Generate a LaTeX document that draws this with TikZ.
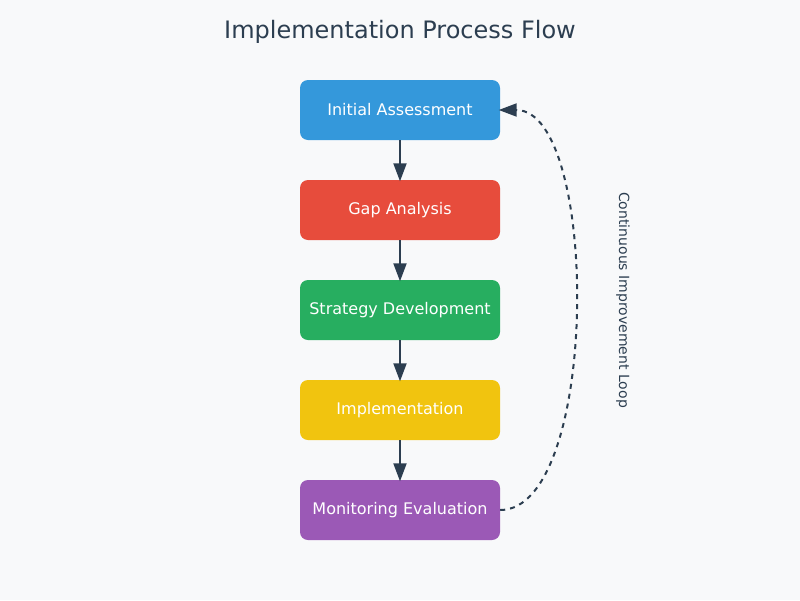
\documentclass[tikz,border=0pt]{standalone}
\usepackage{fontspec}
\setmainfont{DejaVu Sans}
\usetikzlibrary{arrows.meta}
\definecolor{bg}{HTML}{F8F9FA}
\definecolor{ink}{HTML}{2C3E50}
\definecolor{cblue}{HTML}{3498DB}
\definecolor{cred}{HTML}{E74C3C}
\definecolor{cgreen}{HTML}{27AE60}
\definecolor{cyellow}{HTML}{F1C40F}
\definecolor{cpurple}{HTML}{9B59B6}
\tikzset{
  x=1pt, y=-1pt,
  stepbox/.style={rectangle, rounded corners=8pt, minimum width=200pt, minimum height=60pt,
    inner sep=0pt, text=white, font=\fontsize{16}{19}\selectfont},
  flow/.style={draw=ink, line width=2pt, shorten >=-1.5pt, -{Triangle[length=18pt,width=13pt]}},
  loop/.style={draw=ink, line width=2pt, dash pattern=on 5pt off 5pt, shorten >=-1.5pt, -{Triangle[length=18pt,width=13pt]}},
}
\begin{document}
\begin{tikzpicture}
\fill[bg] (0,0) rectangle (800,600);
\useasboundingbox (0,0) rectangle (800,600);
\node[text=ink, font=\fontsize{24}{28}\selectfont] (title) at (400,32) {Implementation Process Flow};
\node[stepbox, fill=cblue] (a) at (400,110) {Initial Assessment};
\node[stepbox, fill=cred] (b) at (400,210) {Gap Analysis};
\node[stepbox, fill=cgreen] (c) at (400,310) {Strategy Development};
\node[stepbox, fill=cyellow] (d) at (400,410) {Implementation};
\node[stepbox, fill=cpurple] (e) at (400,510) {Monitoring Evaluation};
\draw[flow] (a) -- (b);
\draw[flow] (b) -- (c);
\draw[flow] (c) -- (d);
\draw[flow] (d) -- (e);
\draw[loop] (e.east) .. controls (600,510) and (600,110) .. (a.east);
\node[text=ink, rotate=-90, font=\fontsize{14}{16}\selectfont] (lbl) at (623,300) {Continuous Improvement Loop};
\end{tikzpicture}
\end{document}
